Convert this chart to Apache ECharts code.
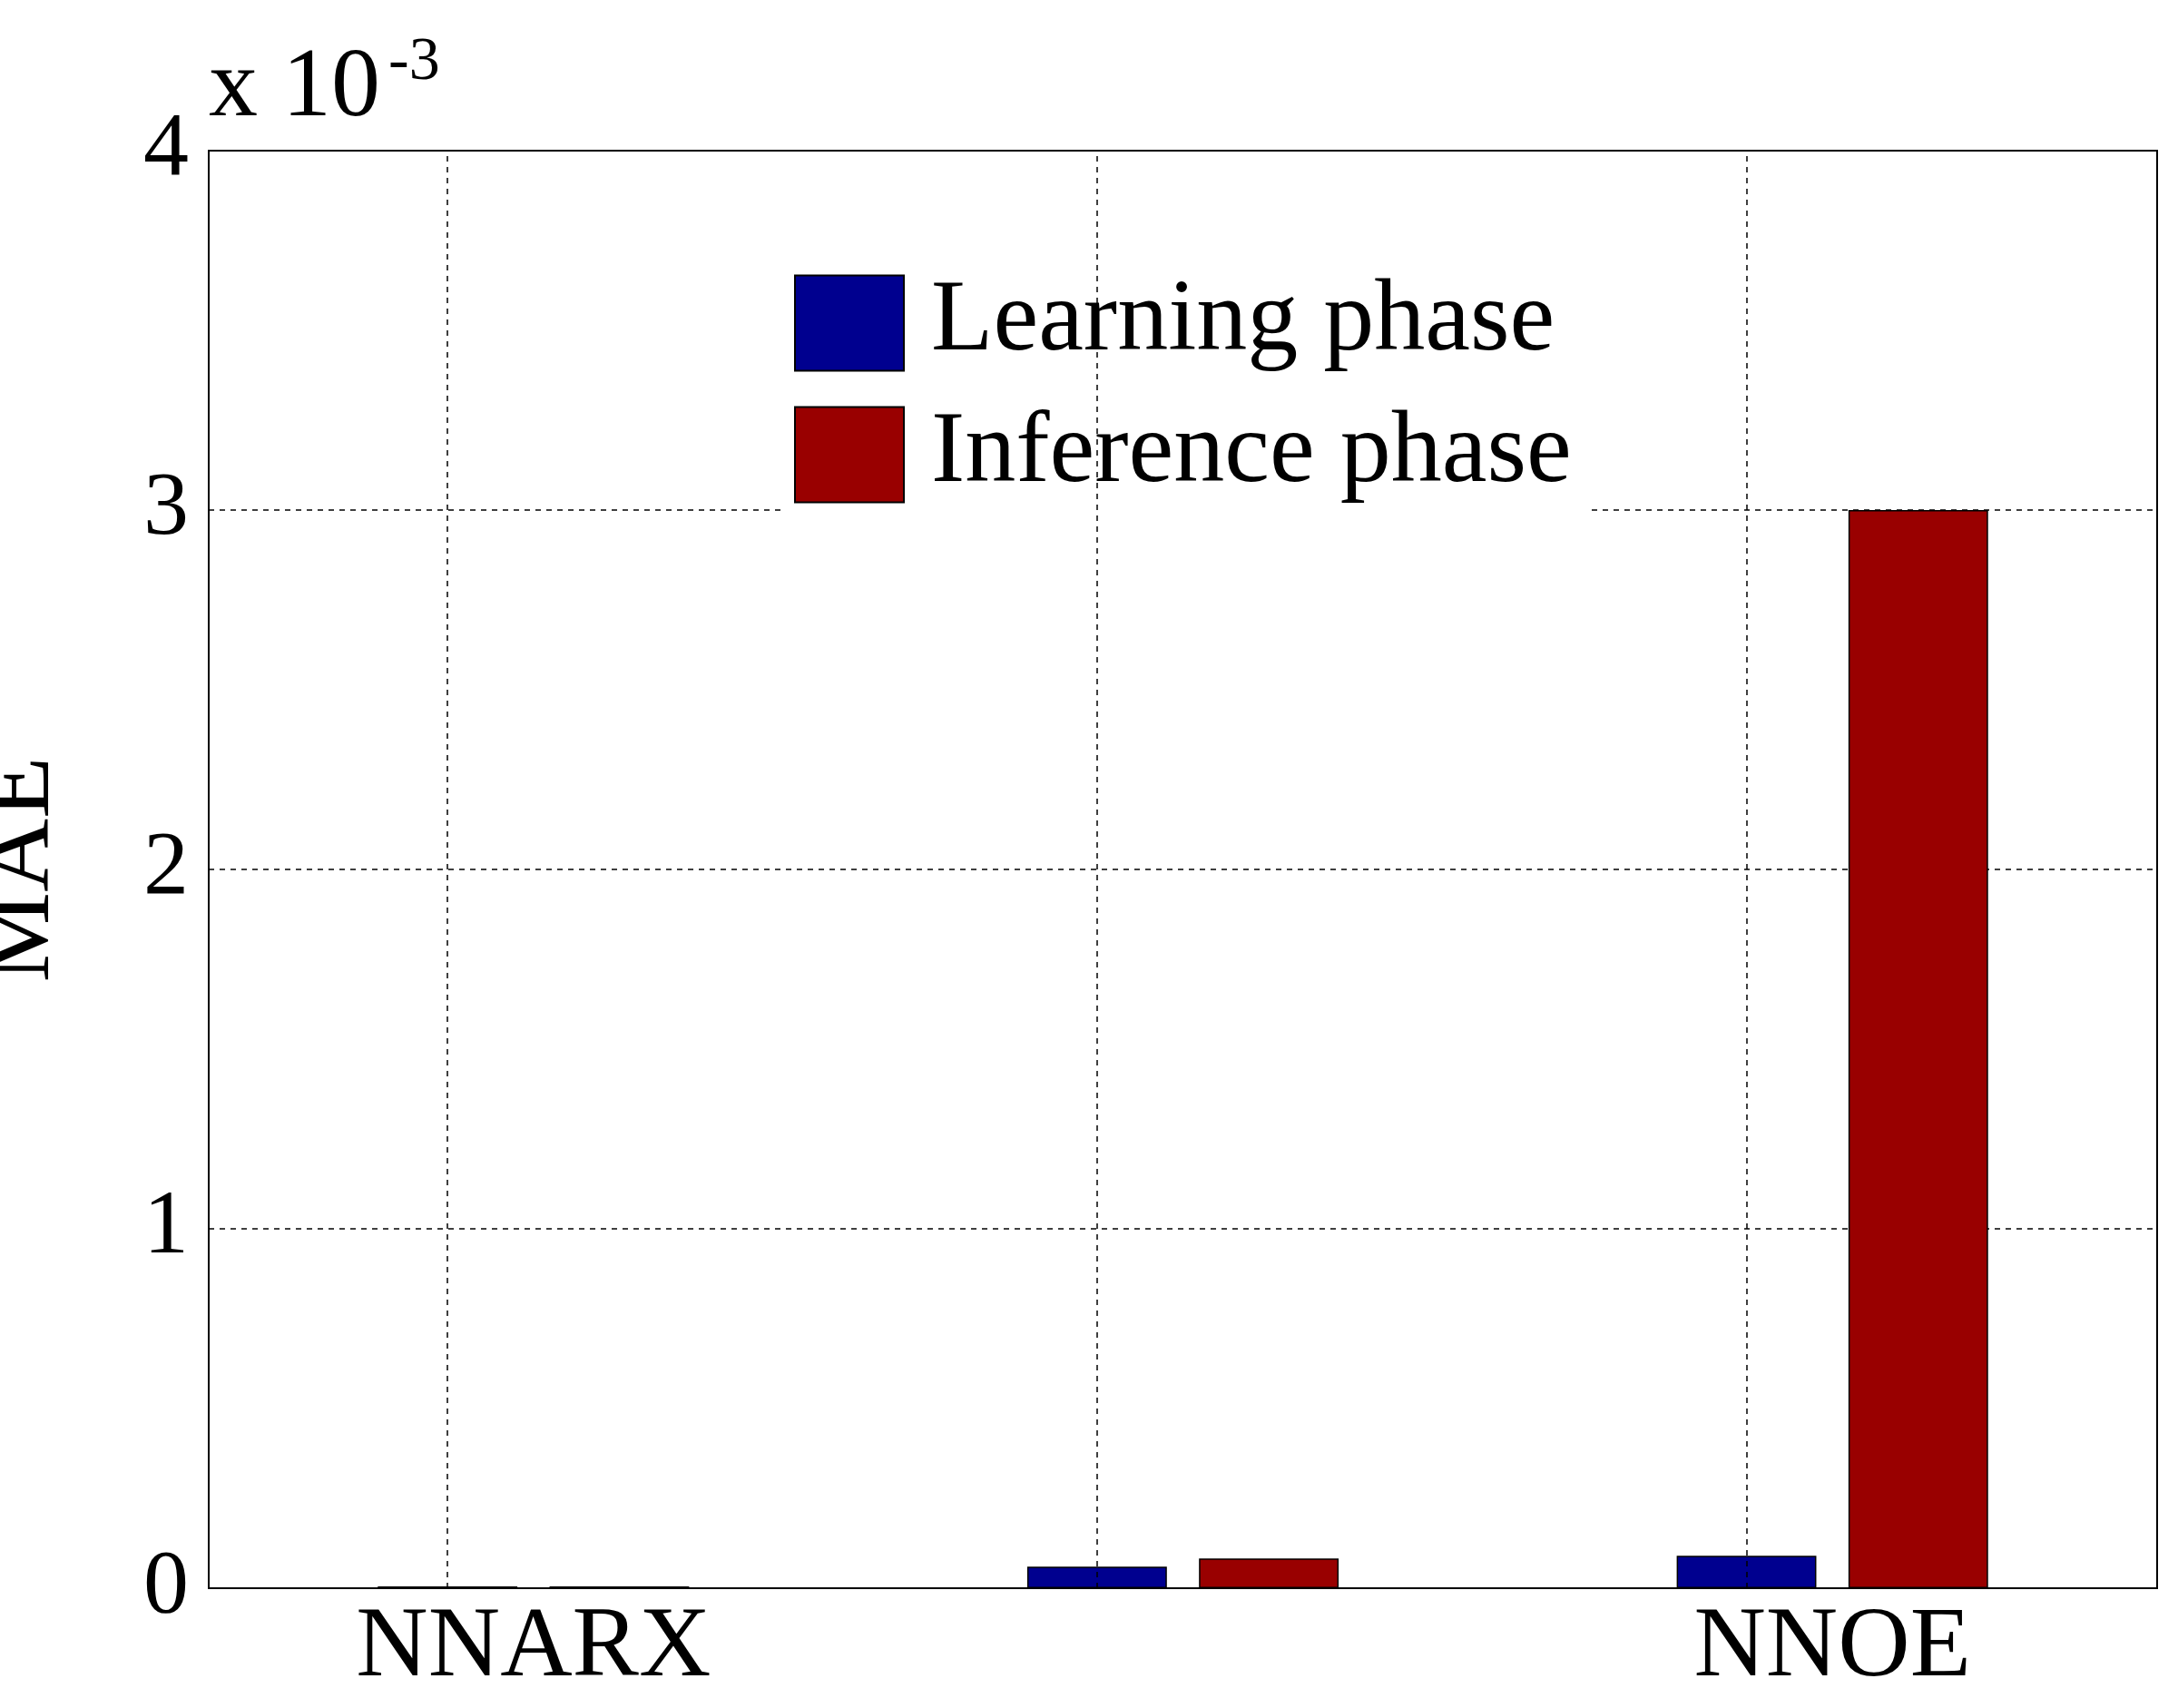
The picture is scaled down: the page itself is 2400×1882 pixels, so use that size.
<!DOCTYPE html>
<html>
<head>
<meta charset="utf-8">
<script src="https://cdn.jsdelivr.net/npm/echarts@6/dist/echarts.min.js"></script>
<style>html,body{margin:0;background:#fff}#c{width:2400px;height:1882px}</style>
</head>
<body>
<div id="c"></div>
<script>
const categories = ["NNARX", "NNARMAX", "NNOE"];
const learning = [0.005, 0.06, 0.09];   // x 10^-3
const inference = [0.005, 0.083, 3.0];  // x 10^-3
const font = "Liberation Serif";

const chart = echarts.init(document.getElementById("c"));
const dashed = { color: "#000", type: [6, 6], width: 1.5 };

chart.setOption({
  animation: false,
  backgroundColor: "#fff",
  grid: {
    left: 230, right: 23, top: 166, bottom: 132, show: true,
    borderColor: "#000", borderWidth: 2, containLabel: false, outerBoundsMode: "none"
  },
  legend: {
    left: 860, top: 285, orient: "vertical", icon: "rect", itemWidth: 120, itemHeight: 105, itemGap: 33,
    backgroundColor: "#fff", padding: [15, 20, 15, 15],
    textStyle: { fontFamily: font, fontSize: 112, color: "#000", padding: [0, 0, 0, 25] },
    data: ["Learning phase", "Inference phase"]
  },
  graphic: [{
    type: "text", left: 230, top: 45,
    style: { text: "x 10", font: "108px Liberation Serif", fill: "#000" }
  }, {
    type: "text", left: 428, top: 35,
    style: { text: "-3", font: "68px Liberation Serif", fill: "#000" }
  }],
  xAxis: {
    type: "category", data: categories,
    axisLine: { lineStyle: { color: "#000", width: 2 } },
    axisTick: { show: false },
    axisLabel: { fontFamily: font, fontSize: 110, color: "#000", margin: 12 }
  },
  yAxis: {
    type: "value", min: 0, max: 4, interval: 1,
    name: "MAE", nameLocation: "middle", nameGap: 150, nameRotate: 90,
    nameTextStyle: { fontFamily: font, fontSize: 112, color: "#000" },
    axisLine: { show: true, lineStyle: { color: "#000", width: 2 } },
    axisTick: { show: false },
    axisLabel: { fontFamily: font, fontSize: 100, color: "#000", margin: 22 },
    splitLine: { lineStyle: dashed }
  },
  series: [{
    name: "Learning phase", type: "bar", data: learning, barWidth: "21.5%", barGap: "23%",
    itemStyle: { color: "#00008f", borderColor: "#000", borderWidth: 1.5 },
    markLine: {
      silent: true, symbol: "none", label: { show: false }, lineStyle: dashed,
      data: categories.map(c => ({ xAxis: c }))
    },
    z: 3
  }, {
    name: "Inference phase", type: "bar", data: inference, barWidth: "21.5%",
    itemStyle: { color: "#990000", borderColor: "#000", borderWidth: 1.5 },
    z: 3
  }]
});
</script>
</body>
</html>
